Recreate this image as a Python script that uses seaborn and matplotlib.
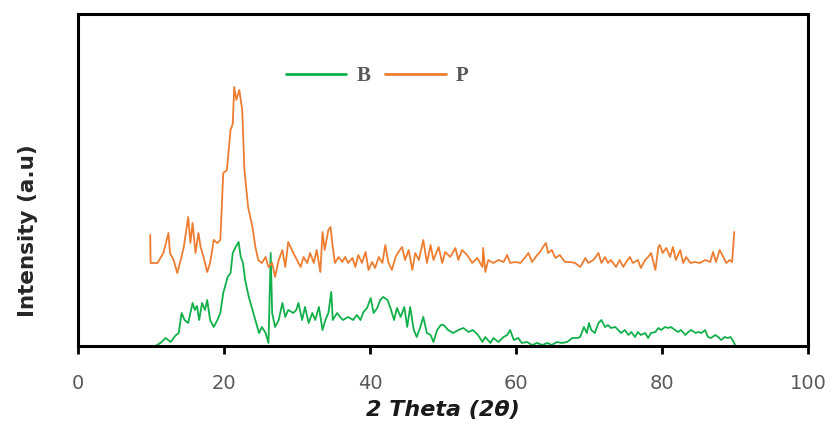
import matplotlib
matplotlib.use("Agg")
import matplotlib.pyplot as plt
import seaborn as sns
import pandas as pd
import numpy as np

# ---- data (2theta in degrees, intensity in a.u.) ----
p_theta = [9.9, 9.95, 10.9, 11.7, 12.4, 12.6, 13.1, 13.6, 14.0, 14.5, 15.1, 15.4, 15.7, 16.1, 16.5, 16.8,
           17.2, 17.7, 18.1, 18.6, 19.1, 19.5, 19.9, 20.4, 20.9, 21.2, 21.4, 21.7, 22.1, 22.5, 22.8,
           23.3, 23.9, 24.3, 24.7, 25.2, 25.7, 26.1, 26.6, 27.0, 27.5, 28.0, 28.4, 28.8, 29.5, 30.0,
           30.5, 30.9, 31.4, 31.8, 32.3, 32.7, 33.2, 33.5, 33.8, 34.3, 34.6, 34.9, 35.2, 35.7, 36.2,
           36.6, 37.0, 37.6, 38.0, 38.4, 38.9, 39.4, 39.8, 40.3, 40.7, 41.2, 41.7, 42.1, 42.5, 43.0,
           43.5, 43.9, 44.4, 44.8, 45.3, 45.8, 46.2, 46.7, 47.3, 47.8, 48.3, 48.7, 49.4, 49.9,
           50.3, 51.0, 51.7, 52.1, 52.6, 53.3, 54.0, 54.7, 55.4, 55.5, 55.8, 56.2, 56.9, 57.6, 58.3,
           58.8, 59.2, 59.9, 60.6, 61.3, 61.7, 62.2, 62.9, 63.3, 63.7, 64.1, 64.4, 64.9, 65.4, 66.0,
           66.7, 67.4, 68.1, 68.8, 69.5, 69.9, 70.6, 71.3, 71.7, 72.2, 72.6, 73.0, 73.7, 74.2, 74.7,
           75.1, 75.6, 76.0, 76.7, 77.1, 77.7, 78.1, 78.5, 79.1, 79.5, 79.7, 80.1, 80.6, 81.1, 81.5,
           81.9, 82.5, 82.9, 83.3, 83.9, 84.5, 85.2, 85.9, 86.6, 87.0, 87.4, 87.9, 88.4, 88.8, 89.3,
           89.6, 89.9]
p_int = [111, 83, 83, 93, 113, 93, 86, 73, 84, 99, 129, 103, 123, 93, 113, 99,
         89, 74, 83, 106, 103, 106, 173, 176, 216, 222, 259, 246, 256, 236, 176,
         139, 119, 99, 86, 83, 89, 79, 83, 69, 86, 96, 79, 104, 93, 86,
         79, 89, 83, 93, 83, 96, 74, 114, 96, 116, 119, 99, 83, 89, 84,
         89, 83, 88, 79, 91, 83, 94, 76, 84, 78, 89, 83, 101, 84, 76,
         89, 94, 99, 86, 96, 76, 93, 86, 106, 83, 101, 86, 99, 83,
         94, 89, 98, 86, 96, 91, 83, 88, 79, 98, 74, 86, 83, 86, 84,
         91, 83, 84, 83, 89, 93, 84, 91, 94, 99, 103, 93, 96, 88, 91,
         84, 84, 83, 79, 88, 83, 86, 93, 83, 89, 83, 86, 79, 86, 79,
         84, 89, 83, 86, 78, 86, 89, 93, 76, 99, 101, 93, 98, 89, 99,
         86, 96, 83, 89, 83, 84, 83, 86, 84, 94, 84, 96, 89, 83, 86,
         84, 114]

b_theta = [10.6, 11.3, 12.0, 12.7, 13.3, 13.8, 14.2, 14.6, 15.1, 15.7, 16.0, 16.3, 16.6, 17.0, 17.4,
           17.7, 18.1, 18.6, 19.1, 19.5, 19.9, 20.5, 20.9, 21.2, 21.6, 22.0, 22.3, 22.6, 22.9, 23.4,
           23.9, 24.3, 24.8, 25.2, 25.7, 26.1, 26.4, 26.6, 27.0, 27.5, 28.0, 28.4, 28.8, 29.5, 29.9,
           30.2, 30.7, 31.1, 31.6, 32.1, 32.5, 33.0, 33.5, 33.9, 34.3, 34.7, 34.9, 35.5, 35.9, 36.3,
           37.0, 37.7, 38.2, 38.7, 39.1, 39.6, 40.1, 40.5, 41.0, 41.4, 41.8, 42.4, 42.8, 43.3, 43.7,
           44.2, 44.7, 45.1, 45.5, 46.0, 46.4, 46.9, 47.3, 47.8, 48.3, 48.7, 49.2, 49.7, 50.1, 50.7,
           51.4, 52.1, 52.8, 53.5, 54.1, 54.8, 55.4, 55.8, 56.5, 56.9, 57.6, 58.3, 58.8, 59.2, 59.7,
           60.3, 60.8, 61.5, 62.2, 62.9, 63.6, 64.3, 64.9, 65.6, 66.3, 67.0, 67.7, 68.4, 68.8, 69.3,
           69.7, 70.0, 70.3, 70.8, 71.3, 71.7, 72.2, 72.6, 73.0, 73.6, 74.0, 74.4, 74.9, 75.4, 75.8,
           76.3, 76.7, 77.1, 77.7, 78.1, 78.5, 79.1, 79.5, 79.9, 80.4, 80.9, 81.2, 81.8, 82.2, 82.6,
           83.2, 83.6, 84.0, 84.6, 85.0, 85.4, 85.9, 86.3, 86.7, 87.3, 87.7, 88.1, 88.6, 89.0, 89.4,
           89.9, 90.0]
b_int = [0, 3, 8, 4, 10, 13, 33, 26, 23, 43, 36, 40, 26, 43, 36,
         46, 26, 19, 26, 33, 53, 69, 73, 93, 99, 104, 89, 83, 66, 49,
         36, 26, 13, 19, 13, 3, 93, 33, 19, 26, 43, 29, 36, 33, 36,
         43, 26, 39, 23, 33, 26, 39, 16, 26, 33, 54, 26, 33, 29, 26,
         29, 26, 31, 26, 34, 38, 48, 33, 38, 46, 49, 46, 38, 26, 38,
         29, 39, 19, 39, 16, 9, 19, 29, 13, 11, 4, 16, 21, 21, 16,
         13, 16, 18, 14, 16, 11, 4, 9, 3, 8, 4, 9, 11, 16, 6,
         8, 3, 4, 1, 3, 1, 3, 1, 4, 3, 4, 8, 8, 9, 19,
         13, 23, 16, 13, 23, 26, 19, 21, 18, 19, 16, 13, 16, 11, 14,
         9, 14, 11, 13, 8, 13, 14, 18, 16, 19, 18, 19, 16, 14, 16,
         11, 14, 16, 13, 14, 13, 16, 9, 8, 11, 9, 6, 9, 8, 9,
         3, 1]

series_names = ["B", "P"]
x_ticks = [0, 20, 40, 60, 80, 100]

df = pd.concat([
    pd.DataFrame({"theta": b_theta, "intensity": b_int, "series": series_names[0]}),
    pd.DataFrame({"theta": p_theta, "intensity": p_int, "series": series_names[1]}),
], ignore_index=True)

sns.set_theme(style="white")
plt.rcParams["font.family"] = ["DejaVu Sans"]

fig = plt.figure(figsize=(8.33, 4.26), dpi=100)
ax = fig.add_axes([0.0936, 0.1878, 0.8764, 0.7794])

palette = {"B": "#12B04A", "P": "#ED7D31"}
sns.lineplot(data=df, x="theta", y="intensity", hue="series", palette=palette,
             sort=False, estimator=None, linewidth=1.3, ax=ax)

ax.set_xlim(0, 100)
ax.set_ylim(0, 332)
ax.set_xticks(x_ticks)
ax.set_xticklabels([str(t) for t in x_ticks], fontsize=14, color="#595959")
ax.set_yticks([])
ax.tick_params(axis="x", direction="out", length=6, width=2, color="black", pad=14, bottom=True)

for s in ax.spines.values():
    s.set_color("black")
    s.set_linewidth(2.2)

ax.set_xlabel("2 Theta (2θ)", fontsize=16, fontweight="bold", fontstyle="italic",
              color="#1a1a1a", labelpad=5)
ax.set_ylabel("Intensity (a.u)", fontsize=15.5, fontweight="bold", color="#262626")
ax.yaxis.set_label_coords(-0.055, 0.346)

leg = ax.legend(loc="center", bbox_to_anchor=(0.41, 0.813), ncol=2, frameon=False,
                handlelength=2.9, columnspacing=0.7, handletextpad=0.5,
                prop={"family": "Liberation Serif", "weight": "bold", "size": 15})
for t in leg.get_texts():
    t.set_color("#595959")
for h in leg.get_lines():
    h.set_linewidth(2)

fig.savefig("out.png", dpi=100)
